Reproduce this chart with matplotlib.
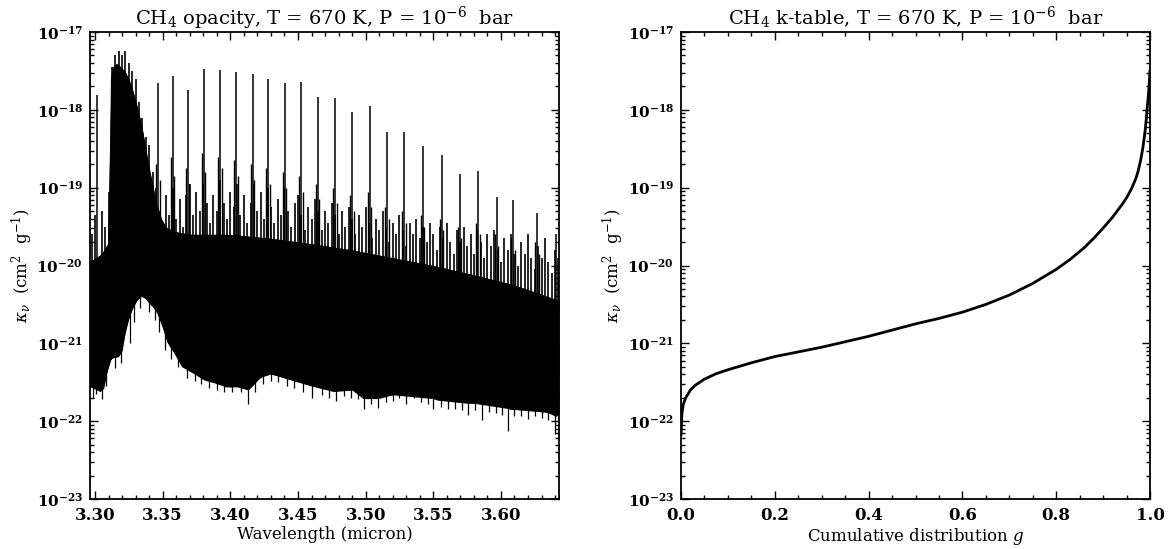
import numpy as np
import matplotlib
matplotlib.use("Agg")
import matplotlib.pyplot as plt
from matplotlib.ticker import MultipleLocator, FuncFormatter, FixedLocator, LogLocator, NullFormatter

plt.rcParams["font.family"] = ["DejaVu Serif"]
plt.rcParams["mathtext.fontset"] = "dejavuserif"

# ---- left panel: opacity spectrum (log10 kappa) ----
XMIN, XMAX = 3.2963, 3.6429

# lower edge of the black mass
floor_wl = [3.2963, 3.2968, 3.3037, 3.3064, 3.3092, 3.3119, 3.3174, 3.3201, 3.3229, 3.3270,
            3.3311, 3.3352, 3.3393, 3.3448, 3.3489, 3.3530, 3.3585, 3.3640, 3.3722, 3.3804,
            3.3886, 3.3969, 3.4051, 3.4133, 3.4215, 3.4270, 3.4380, 3.4489, 3.4626, 3.4763,
            3.4900, 3.4982, 3.5092, 3.5202, 3.5311, 3.5421, 3.5530, 3.5640, 3.5750, 3.5859,
            3.5969, 3.6078, 3.6188, 3.6297, 3.6407, 3.6429]
floor_logk = [-21.56, -21.56, -21.62, -21.58, -21.34, -21.19, -21.17, -21.09, -20.79, -20.57,
              -20.44, -20.38, -20.47, -20.57, -20.74, -20.98, -21.13, -21.30, -21.38, -21.47,
              -21.51, -21.56, -21.56, -21.60, -21.45, -21.38, -21.43, -21.49, -21.56, -21.62,
              -21.60, -21.71, -21.71, -21.66, -21.62, -21.66, -21.73, -21.75, -21.77, -21.77,
              -21.79, -21.85, -21.85, -21.85, -21.94, -21.90]

# top of the solid black region
solid_wl = [3.2963, 3.3050, 3.3100, 3.3114, 3.3130, 3.3160, 3.3190, 3.3220, 3.3250, 3.3280,
            3.3310, 3.3340, 3.3370, 3.3400, 3.3430, 3.3460, 3.3500, 3.3550, 3.3700, 3.4000,
            3.4300, 3.4600, 3.4900, 3.5200, 3.5500, 3.5800, 3.6100, 3.6429]
solid_logk = [-19.95, -19.85, -19.70, -17.60, -17.45, -17.40, -17.45, -17.50, -17.60, -17.75,
              -17.95, -18.15, -18.45, -18.75, -19.00, -19.25, -19.45, -19.55, -19.60, -19.60,
              -19.65, -19.72, -19.80, -19.90, -20.00, -20.12, -20.25, -20.45]

# dense forest of lines above the solid region (every 0.0025 micron from 3.2975)
forest_logk = [-19.60, -19.35, -19.90, -19.30, -19.50, -19.05,
               -17.45, -17.30, -17.25, -17.30, -17.25, -17.40, -17.50, -17.60, -17.90, -18.10,
               -18.35, -18.45, -18.80,
               -19.00, -19.30, -19.45, -19.10, -19.35, -19.00, -19.40, -19.15, -19.50, -19.10,
               -18.95, -19.35, -19.05, -19.30, -18.95, -19.20, -19.45, -19.10, -19.30, -18.90,
               -19.20, -19.40, -19.05, -19.25, -18.95, -19.35, -19.10, -19.45, -19.20, -18.95,
               -19.30, -19.05, -19.40, -19.00, -19.25, -19.45, -19.15, -19.35, -19.00, -19.30,
               -19.50, -19.20, -19.10, -19.35, -19.55, -19.25, -19.40, -19.15, -19.30, -19.55,
               -19.30, -19.45, -19.20, -19.35, -19.60, -19.30, -19.50, -19.25, -19.40, -19.60,
               -19.35, -19.50, -19.25, -19.45, -19.65, -19.40, -19.55, -19.30, -19.50, -19.70,
               -19.45, -19.60, -19.35, -19.55, -19.75, -19.45, -19.60, -19.40, -19.65, -19.50,
               -19.70, -19.45, -19.60, -19.80, -19.50, -19.65, -19.45, -19.70, -19.85, -19.55,
               -19.70, -19.50, -19.75, -19.60, -19.85, -19.55, -19.70, -19.90, -19.60, -19.75,
               -19.55, -19.80, -19.95, -19.65, -19.80, -19.60, -19.85, -20.00, -19.70, -19.85,
               -19.60, -19.90, -20.05, -19.75, -19.90, -19.65, -19.95, -20.10, -19.80, -19.90]

# tall P-branch lines
tall_wl = [3.3015, 3.3467, 3.3574, 3.3686, 3.3804, 3.3925, 3.4043, 3.4166, 3.4281, 3.4402,
           3.4522, 3.4645, 3.4774, 3.4900, 3.5029, 3.5160, 3.5284, 3.5421, 3.5563, 3.5695,
           3.5832, 3.5969, 3.6092, 3.6270, 3.6407]
tall_logk = [-17.81, -17.66, -17.57, -17.74, -17.48, -17.49, -17.51, -17.54, -17.60, -17.65,
             -17.64, -17.83, -17.85, -18.03, -17.95, -18.28, -18.29, -18.47, -18.58, -18.82,
             -18.79, -19.12, -19.16, -19.33, -19.59]

# multiplet companions next to the tall lines
comp_wl = [3.3453, 3.3479, 3.3560, 3.3586, 3.3671, 3.3698, 3.3789, 3.3816, 3.3910, 3.3937,
           3.4028, 3.4055, 3.4151, 3.4178, 3.4266, 3.4293, 3.4387, 3.4414, 3.4507, 3.4534,
           3.4630, 3.4657, 3.4759, 3.4786, 3.4885, 3.4912, 3.5014, 3.5041, 3.5145, 3.5172,
           3.5269, 3.5296, 3.5406, 3.5433, 3.5548, 3.5575, 3.5680, 3.5707, 3.5817, 3.5844,
           3.5954, 3.5981, 3.6077, 3.6104, 3.6255, 3.6282]
comp_logk = [-18.70, -18.90, -18.60, -18.85, -18.75, -18.95, -18.55, -18.80, -18.60, -18.75,
             -18.65, -18.85, -18.70, -18.90, -18.75, -18.95, -18.80, -19.00, -18.85, -19.05,
             -18.95, -19.15, -19.00, -19.20, -19.10, -19.30, -19.05, -19.25, -19.25, -19.40,
             -19.30, -19.45, -19.35, -19.50, -19.40, -19.55, -19.50, -19.65, -19.45, -19.60,
             -19.60, -19.75, -19.65, -19.80, -19.70, -19.85]

# downward notches of the lower edge
dip_wl = [3.2985, 3.3010, 3.3050, 3.3080, 3.3150, 3.3190, 3.3255, 3.3290, 3.3330, 3.3400,
          3.3440, 3.3470, 3.3520, 3.3560, 3.3610, 3.3680, 3.3740, 3.3780, 3.3840, 3.3900,
          3.3950, 3.4010, 3.4080, 3.4133, 3.4180, 3.4240, 3.4300, 3.4350, 3.4420, 3.4470,
          3.4540, 3.4600, 3.4680, 3.4730, 3.4780, 3.4840, 3.4890, 3.4940, 3.4985, 3.5040,
          3.5090, 3.5150, 3.5200, 3.5250, 3.5300, 3.5360, 3.5410, 3.5460, 3.5500, 3.5560,
          3.5610, 3.5660, 3.5710, 3.5760, 3.5810, 3.5860, 3.5910, 3.5960, 3.6010, 3.6050,
          3.6100, 3.6150, 3.6200, 3.6250, 3.6300, 3.6350, 3.6400]
dip_logk = [-21.70, -21.65, -21.72, -21.55, -21.32, -21.25, -21.00, -20.72, -20.55, -20.60,
            -20.70, -20.85, -21.08, -21.20, -21.30, -21.45, -21.48, -21.52, -21.58, -21.60,
            -21.62, -21.63, -21.62, -21.78, -21.62, -21.52, -21.48, -21.50, -21.55, -21.58,
            -21.62, -21.70, -21.66, -21.70, -21.74, -21.68, -21.70, -21.72, -21.85, -21.78,
            -21.83, -21.75, -21.74, -21.70, -21.78, -21.70, -21.76, -21.78, -21.84, -21.82,
            -21.84, -21.85, -21.86, -21.92, -21.86, -21.98, -21.88, -21.90, -21.92, -22.13,
            -21.94, -21.93, -21.97, -21.94, -21.96, -21.98, -22.17]

# ---- right panel: k-table ----
g_vals = [0.0, 0.002, 0.005, 0.01, 0.02, 0.03, 0.05, 0.075, 0.1, 0.15, 0.2, 0.25, 0.3, 0.35,
          0.4, 0.45, 0.5, 0.55, 0.6, 0.65, 0.7, 0.75, 0.8, 0.83, 0.86, 0.88, 0.9, 0.92,
          0.94, 0.95, 0.96, 0.97, 0.975, 0.98, 0.985, 0.99, 0.993, 0.996, 0.998, 1.0]
ktab_logk = [-22.17, -21.90, -21.78, -21.70, -21.60, -21.54, -21.46, -21.39, -21.34, -21.25,
             -21.17, -21.11, -21.05, -20.98, -20.91, -20.83, -20.75, -20.68, -20.60, -20.50,
             -20.38, -20.23, -20.05, -19.92, -19.77, -19.65, -19.52, -19.38, -19.22, -19.13,
             -19.02, -18.88, -18.78, -18.65, -18.48, -18.25, -18.05, -17.85, -17.70, -17.50]

TITLE_TAIL = r"T = 670 K, P = 10$^{-6}$  bar"
YLABEL = r"$\kappa_\nu$  (cm$^2$  g$^{-1}$)"


def pow10(a):
    return 10.0 ** np.asarray(a)


def style_axes(ax):
    ax.set_yscale("log")
    ax.set_ylim(1e-23, 1e-17)
    ax.yaxis.set_major_locator(FixedLocator([1e-23, 1e-22, 1e-21, 1e-20, 1e-19, 1e-18, 1e-17]))
    ax.yaxis.set_minor_locator(LogLocator(base=10, subs=np.arange(2, 10), numticks=20))
    ax.yaxis.set_minor_formatter(NullFormatter())
    ax.yaxis.set_major_formatter(FuncFormatter(
        lambda v, p: r"$\mathbf{10^{%d}}$" % int(round(np.log10(v)))))
    ax.tick_params(which="both", direction="in", top=True, right=True, width=1.0)
    ax.tick_params(which="major", length=5.5)
    ax.tick_params(which="minor", length=3)
    ax.tick_params(axis="x", labelsize=12, pad=6)
    ax.tick_params(axis="y", labelsize=11, pad=5)
    for lab in ax.get_xticklabels():
        lab.set_fontweight("bold")
    for s in ax.spines.values():
        s.set_linewidth(1.3)
    ax.set_ylabel(YLABEL, fontsize=12, labelpad=1)


fig = plt.figure(figsize=(11.73, 5.49), dpi=100)
ax1 = fig.add_axes([90 / 1173, 50 / 549, 469 / 1173, 467 / 549])
ax2 = fig.add_axes([681 / 1173, 50 / 549, 469 / 1173, 467 / 549])

# left: spectrum
ax1.fill_between(solid_wl, pow10(np.interp(solid_wl, floor_wl, floor_logk)), pow10(solid_logk),
                 color="black", lw=0)
fl_at_solid = np.interp(floor_wl, solid_wl, solid_logk)
ax1.fill_between(floor_wl, pow10(floor_logk), pow10(fl_at_solid), color="black", lw=0)
forest_wl = np.linspace(3.2975, 3.6425, len(forest_logk))
ax1.vlines(forest_wl, pow10(np.interp(forest_wl, solid_wl, solid_logk) - 0.3), pow10(forest_logk),
           color="black", lw=1.2)
ax1.vlines(comp_wl, pow10(np.interp(comp_wl, solid_wl, solid_logk) - 0.3), pow10(comp_logk),
           color="black", lw=1.0)
ax1.vlines(tall_wl, pow10(np.interp(tall_wl, solid_wl, solid_logk) - 0.3), pow10(tall_logk),
           color="black", lw=1.1)
ax1.vlines(dip_wl, pow10(dip_logk), pow10(np.interp(dip_wl, floor_wl, floor_logk) + 0.2),
           color="black", lw=0.9)
ax1.set_xlim(XMIN, XMAX)
ax1.xaxis.set_major_locator(MultipleLocator(0.05))
ax1.xaxis.set_minor_locator(MultipleLocator(0.01))
ax1.xaxis.set_major_formatter(FuncFormatter(lambda v, p: "%.2f" % v))
ax1.set_xlabel("Wavelength (micron)", fontsize=12, labelpad=1)
ax1.set_title(r"CH$_4$ opacity, " + TITLE_TAIL, fontsize=14, pad=5)
style_axes(ax1)

# right: k-table
ax2.plot(g_vals, pow10(ktab_logk), color="black", lw=2.0)
ax2.set_xlim(0.0, 1.0)
ax2.xaxis.set_major_locator(MultipleLocator(0.2))
ax2.xaxis.set_minor_locator(MultipleLocator(0.05))
ax2.xaxis.set_major_formatter(FuncFormatter(lambda v, p: "%.1f" % v))
ax2.set_xlabel(r"Cumulative distribution $g$", fontsize=12, labelpad=1)
ax2.set_title(r"CH$_4$ k-table, " + TITLE_TAIL, fontsize=14, pad=5)
style_axes(ax2)

fig.savefig("out.png", dpi=100)
